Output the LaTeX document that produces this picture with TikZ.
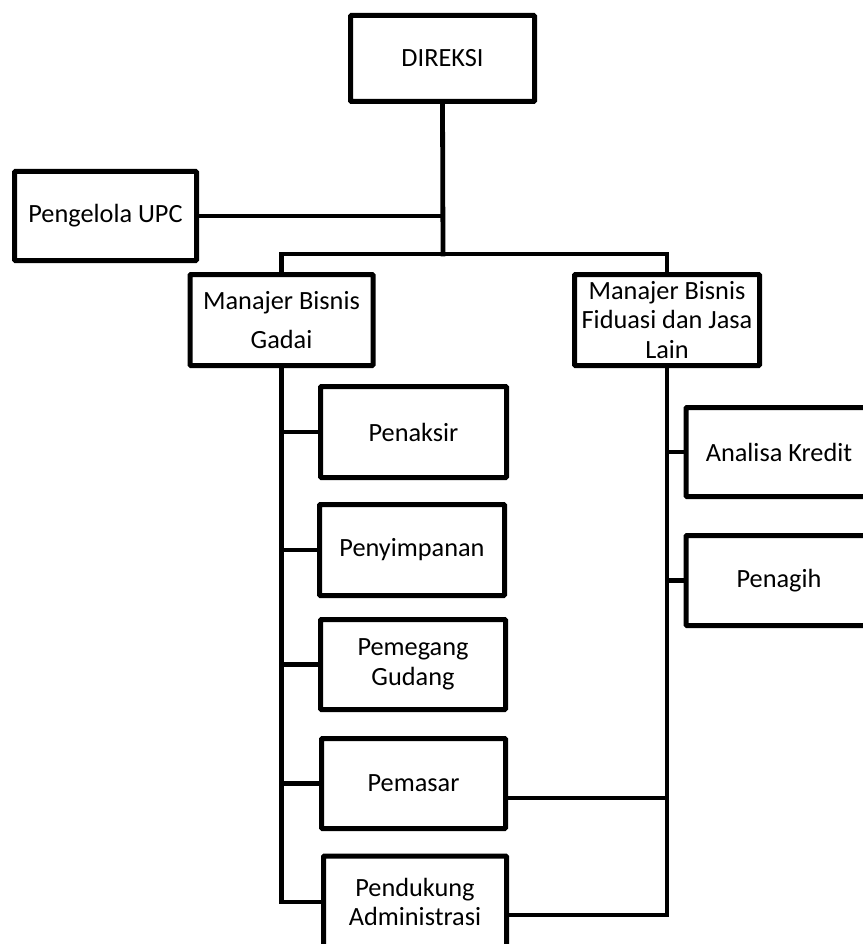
\documentclass[tikz,border=0pt]{standalone}
\usepackage{fontspec}
\setmainfont{Carlito}
\begin{document}
\begin{tikzpicture}[x=1pt,y=-1pt,
  box/.style={draw=black, line width=5pt, fill=white, rounded corners=1pt, inner sep=0pt, align=center,
    font=\fontsize{26.3}{29.5}\selectfont},
  conn/.style={draw=black, line width=4.8pt, line cap=rect, line join=miter}]
\useasboundingbox (0,0) rectangle (862,944);
% nodes
\node[box, minimum width=184pt, minimum height=86pt] (dir) at (442.5,58.5) {DIREKSI};
\node[box, minimum width=182pt, minimum height=89pt] (upc) at (105.5,216) {Pengelola UPC};
\node[box, minimum width=183pt, minimum height=91pt] (gadai) at (281.5,320) {Manajer Bisnis\\[10pt]Gadai};
\node[box, minimum width=185pt, minimum height=91pt] (fid) at (667,320) {Manajer Bisnis\\Fiduasi dan Jasa\\Lain};
\node[box, minimum width=186pt, minimum height=91pt] (penaksir) at (413.5,432) {Penaksir};
\node[box, minimum width=185pt, minimum height=91pt] (penyimpanan) at (412,550) {Penyimpanan};
\node[box, minimum width=185pt, minimum height=90pt] (pemegang) at (413,664.5) {Pemegang\\Gudang};
\node[box, minimum width=184pt, minimum height=90pt] (pemasar) at (413.5,783.5) {Pemasar};
\node[box, minimum width=183pt, minimum height=92pt] (pendukung) at (415,902) {Pendukung\\Administrasi};
\node[box, minimum width=186pt, minimum height=89pt] (analisa) at (779,452) {Analisa Kredit};
\node[box, minimum width=186pt, minimum height=90pt] (penagih) at (779,580.5) {Penagih};
% junction coordinates
\coordinate (j) at (443,254);
\coordinate (r1) at (666,798);
\coordinate (r2) at (666,915);
% connectors
\draw[conn] (dir.south) -- (j);
\draw[conn] (upc.east) -- (upc.east -| j);
\draw[conn] (gadai.north) |- (j) -| (fid.north);
\draw[conn] (gadai.south) |- (pendukung.west);
\draw[conn] (penaksir.west) -- (penaksir.west -| gadai.south);
\draw[conn] (penyimpanan.west) -- (penyimpanan.west -| gadai.south);
\draw[conn] (pemegang.west) -- (pemegang.west -| gadai.south);
\draw[conn] (pemasar.west) -- (pemasar.west -| gadai.south);
\draw[conn] (fid.south) -- (fid.south |- r2) -- (r2 -| pendukung.east);
\draw[conn] (r1) -- (r1 -| pemasar.east);
\draw[conn] (analisa.west) -- (analisa.west -| fid.south);
\draw[conn] (penagih.west) -- (penagih.west -| fid.south);
\end{tikzpicture}
\end{document}
